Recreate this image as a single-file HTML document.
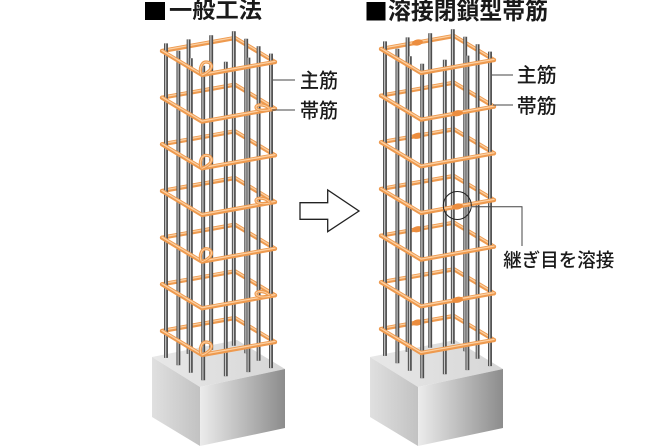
<!DOCTYPE html>
<html><head><meta charset="utf-8"><style>
html,body{margin:0;padding:0;background:#fff;}
svg{display:block;}
text{font-family:"Liberation Sans","Noto Sans CJK JP",sans-serif;fill:#1a1a1a;}
</style></head><body>
<svg width="670" height="446" viewBox="0 0 670 446" xmlns="http://www.w3.org/2000/svg">
<defs>
  <linearGradient id="gTop" x1="0" y1="0" x2="1" y2="0"><stop offset="0" stop-color="#e8e8e8"/><stop offset="1" stop-color="#d6d6d6"/></linearGradient>
  <linearGradient id="gLeft" x1="0" y1="0" x2="1" y2="0"><stop offset="0" stop-color="#e0e0e0"/><stop offset="1" stop-color="#c2c2c2"/></linearGradient>
  <linearGradient id="gRight" x1="0" y1="0" x2="1" y2="0"><stop offset="0" stop-color="#ececec"/><stop offset="1" stop-color="#8c8c8c"/></linearGradient>
  <path id="hb" d="M162,51 L235,38 L275,62"/>
  <path id="hf" d="M162,51 L202,75 L275,62"/>
  <g id="block">
    <polygon points="152,357 237,340 285,369 200,387" fill="url(#gTop)"/>
    <polygon points="152,357 200,387 200,446 152,417" fill="url(#gLeft)"/>
    <polygon points="200,387 285,369 285,428 200,446" fill="url(#gRight)"/>
  </g>
  <g id="hoopsBack" fill="none" stroke-linejoin="round" stroke-linecap="round">
    <g stroke="#ee9a4f" stroke-width="4.2">
      <use href="#hb" y="0"/><use href="#hb" y="46.7"/><use href="#hb" y="93.3"/><use href="#hb" y="140"/><use href="#hb" y="186.7"/><use href="#hb" y="233.3"/><use href="#hb" y="280"/>
    </g>
    <g stroke="#fcd0a2" stroke-width="1.3">
      <use href="#hb" y="-0.6"/><use href="#hb" y="46.1"/><use href="#hb" y="92.7"/><use href="#hb" y="139.4"/><use href="#hb" y="186.1"/><use href="#hb" y="232.7"/><use href="#hb" y="279.4"/>
    </g>
  </g>
  <g id="hoopsFront" fill="none" stroke-linejoin="round" stroke-linecap="round">
    <g stroke="#ee9a4f" stroke-width="4.2">
      <use href="#hf" y="0"/><use href="#hf" y="46.7"/><use href="#hf" y="93.3"/><use href="#hf" y="140"/><use href="#hf" y="186.7"/><use href="#hf" y="233.3"/><use href="#hf" y="280"/>
    </g>
    <g stroke="#fcd0a2" stroke-width="1.3">
      <use href="#hf" y="-0.6"/><use href="#hf" y="46.1"/><use href="#hf" y="92.7"/><use href="#hf" y="139.4"/><use href="#hf" y="186.1"/><use href="#hf" y="232.7"/><use href="#hf" y="279.4"/>
    </g>
  </g>
  <g id="bars">
    <line x1="233.8" y1="31.3" x2="233.8" y2="345.8" stroke="#4c4c4c" stroke-width="3.9"/><line x1="233.5" y1="31.3" x2="233.5" y2="345.8" stroke="#c8c8c8" stroke-width="1.2"/>
    <line x1="211.2" y1="35.3" x2="211.2" y2="349.8" stroke="#4c4c4c" stroke-width="3.9"/><line x1="210.9" y1="35.3" x2="210.9" y2="349.8" stroke="#c8c8c8" stroke-width="1.2"/>
    <line x1="246.2" y1="38.7" x2="246.2" y2="353.2" stroke="#4c4c4c" stroke-width="3.9"/><line x1="245.9" y1="38.7" x2="245.9" y2="353.2" stroke="#c8c8c8" stroke-width="1.2"/>
    <line x1="188.6" y1="39.4" x2="188.6" y2="353.9" stroke="#4c4c4c" stroke-width="3.9"/><line x1="188.3" y1="39.4" x2="188.3" y2="353.9" stroke="#c8c8c8" stroke-width="1.2"/>
    <line x1="166" y1="43.4" x2="166" y2="357.9" stroke="#4c4c4c" stroke-width="3.9"/><line x1="165.7" y1="43.4" x2="165.7" y2="357.9" stroke="#c8c8c8" stroke-width="1.2"/>
    <line x1="258.6" y1="46.2" x2="258.6" y2="360.7" stroke="#4c4c4c" stroke-width="3.9"/><line x1="258.3" y1="46.2" x2="258.3" y2="360.7" stroke="#c8c8c8" stroke-width="1.2"/>
    <line x1="178.4" y1="50.8" x2="178.4" y2="365.3" stroke="#4c4c4c" stroke-width="3.9"/><line x1="178.1" y1="50.8" x2="178.1" y2="365.3" stroke="#c8c8c8" stroke-width="1.2"/>
    <line x1="271" y1="53.6" x2="271" y2="368.1" stroke="#4c4c4c" stroke-width="3.9"/><line x1="270.7" y1="53.6" x2="270.7" y2="368.1" stroke="#c8c8c8" stroke-width="1.2"/>
    <line x1="248.4" y1="57.6" x2="248.4" y2="372.1" stroke="#4c4c4c" stroke-width="3.9"/><line x1="248.1" y1="57.6" x2="248.1" y2="372.1" stroke="#c8c8c8" stroke-width="1.2"/>
    <line x1="190.8" y1="58.3" x2="190.8" y2="372.8" stroke="#4c4c4c" stroke-width="3.9"/><line x1="190.5" y1="58.3" x2="190.5" y2="372.8" stroke="#c8c8c8" stroke-width="1.2"/>
    <line x1="225.8" y1="61.7" x2="225.8" y2="376.2" stroke="#4c4c4c" stroke-width="3.9"/><line x1="225.5" y1="61.7" x2="225.5" y2="376.2" stroke="#c8c8c8" stroke-width="1.2"/>
    <line x1="203.2" y1="65.7" x2="203.2" y2="380.2" stroke="#4c4c4c" stroke-width="3.9"/><line x1="202.9" y1="65.7" x2="202.9" y2="380.2" stroke="#c8c8c8" stroke-width="1.2"/>
  </g>
  <path id="hookF" d="M201,74 C199,68 202,62 206,62 C211,62 213,66 210,70 C208,72 205,74 202,75" fill="none"/>
  <path id="hookR" d="M269,61.5 C264,57 256,57.5 256,60.5 C256,63.5 263,64.5 270,63" fill="none"/>
</defs>

<!-- Titles -->
<rect x="145" y="2" width="20" height="18" fill="#000"/>
<text x="169" y="18" font-size="22" font-weight="700" textLength="93" lengthAdjust="spacingAndGlyphs">一般工法</text>
<rect x="366.5" y="2" width="19" height="18.5" fill="#000"/>
<text x="388" y="18.8" font-size="24" font-weight="700" textLength="160" lengthAdjust="spacingAndGlyphs">溶接閉鎖型帯筋</text>

<!-- Left column -->
<use href="#block"/>
<use href="#hoopsBack"/>
<use href="#bars"/>
<use href="#hoopsFront"/>
<g fill="none" stroke-linecap="round" stroke-linejoin="round">
  <g stroke="#ee9a4f" stroke-width="3.2">
    <use href="#hookF" y="0"/><use href="#hookF" y="93.3"/><use href="#hookF" y="186.7"/><use href="#hookF" y="280"/>
    <use href="#hookR" y="46.7"/><use href="#hookR" y="140"/><use href="#hookR" y="233.3"/>
  </g>
  <g stroke="#fcd0a2" stroke-width="1">
    <use href="#hookF" y="0"/><use href="#hookF" y="93.3"/><use href="#hookF" y="186.7"/><use href="#hookF" y="280"/>
    <use href="#hookR" y="46.7"/><use href="#hookR" y="140"/><use href="#hookR" y="233.3"/>
  </g>
</g>

<!-- Right column -->
<g transform="translate(218,0)"><use href="#block"/></g>
<g transform="translate(219,-2)">
  <use href="#hoopsBack"/>
  <g fill="#ec8d3e">
    <ellipse cx="198.5" cy="44.5" rx="5.5" ry="3" transform="rotate(-10 198.5 44.5)"/>
    <ellipse cx="198.5" cy="137.8" rx="5.5" ry="3" transform="rotate(-10 198.5 137.8)"/>
    <ellipse cx="198.5" cy="231.2" rx="5.5" ry="3" transform="rotate(-10 198.5 231.2)"/>
    <ellipse cx="198.5" cy="324.5" rx="5.5" ry="3" transform="rotate(-10 198.5 324.5)"/>
  </g>
  <use href="#bars"/>
  <use href="#hoopsFront"/>
  <g fill="#ec8d3e">
    <ellipse cx="238.5" cy="115.2" rx="5.5" ry="3" transform="rotate(-10 238.5 115.2)"/>
    <ellipse cx="238.5" cy="208.5" rx="5.5" ry="3" transform="rotate(-10 238.5 208.5)"/>
    <ellipse cx="238.5" cy="301.8" rx="5.5" ry="3" transform="rotate(-10 238.5 301.8)"/>
  </g>
</g>

<!-- Arrow -->
<polygon points="300,202.7 327.7,202.7 327.7,190 359,211 327.7,231.7 327.7,219.3 300,219.3" fill="#fff" stroke="#222" stroke-width="1.3" stroke-linejoin="miter"/>

<!-- Leader lines & labels -->
<g stroke="#444" stroke-width="1" fill="none">
  <line x1="273" y1="80" x2="295" y2="80"/>
  <line x1="272" y1="110" x2="295" y2="110"/>
  <line x1="492" y1="75" x2="513" y2="75"/>
  <line x1="493" y1="105" x2="513" y2="105"/>
  <polyline points="472,206.7 522,206.7 522,246"/>
</g>
<circle cx="457.3" cy="205.5" r="14" fill="none" stroke="#222" stroke-width="1"/>

<text x="300" y="87.5" font-size="20" font-weight="500" textLength="38" lengthAdjust="spacingAndGlyphs">主筋</text>
<text x="300" y="117.5" font-size="20" font-weight="500" textLength="38" lengthAdjust="spacingAndGlyphs">帯筋</text>
<text x="516.7" y="82" font-size="20" font-weight="500" textLength="40" lengthAdjust="spacingAndGlyphs">主筋</text>
<text x="516.7" y="113" font-size="20" font-weight="500" textLength="40" lengthAdjust="spacingAndGlyphs">帯筋</text>
<text x="503.3" y="266.5" font-size="19" font-weight="500" textLength="111" lengthAdjust="spacingAndGlyphs">継ぎ目を溶接</text>
</svg>
</body></html>
